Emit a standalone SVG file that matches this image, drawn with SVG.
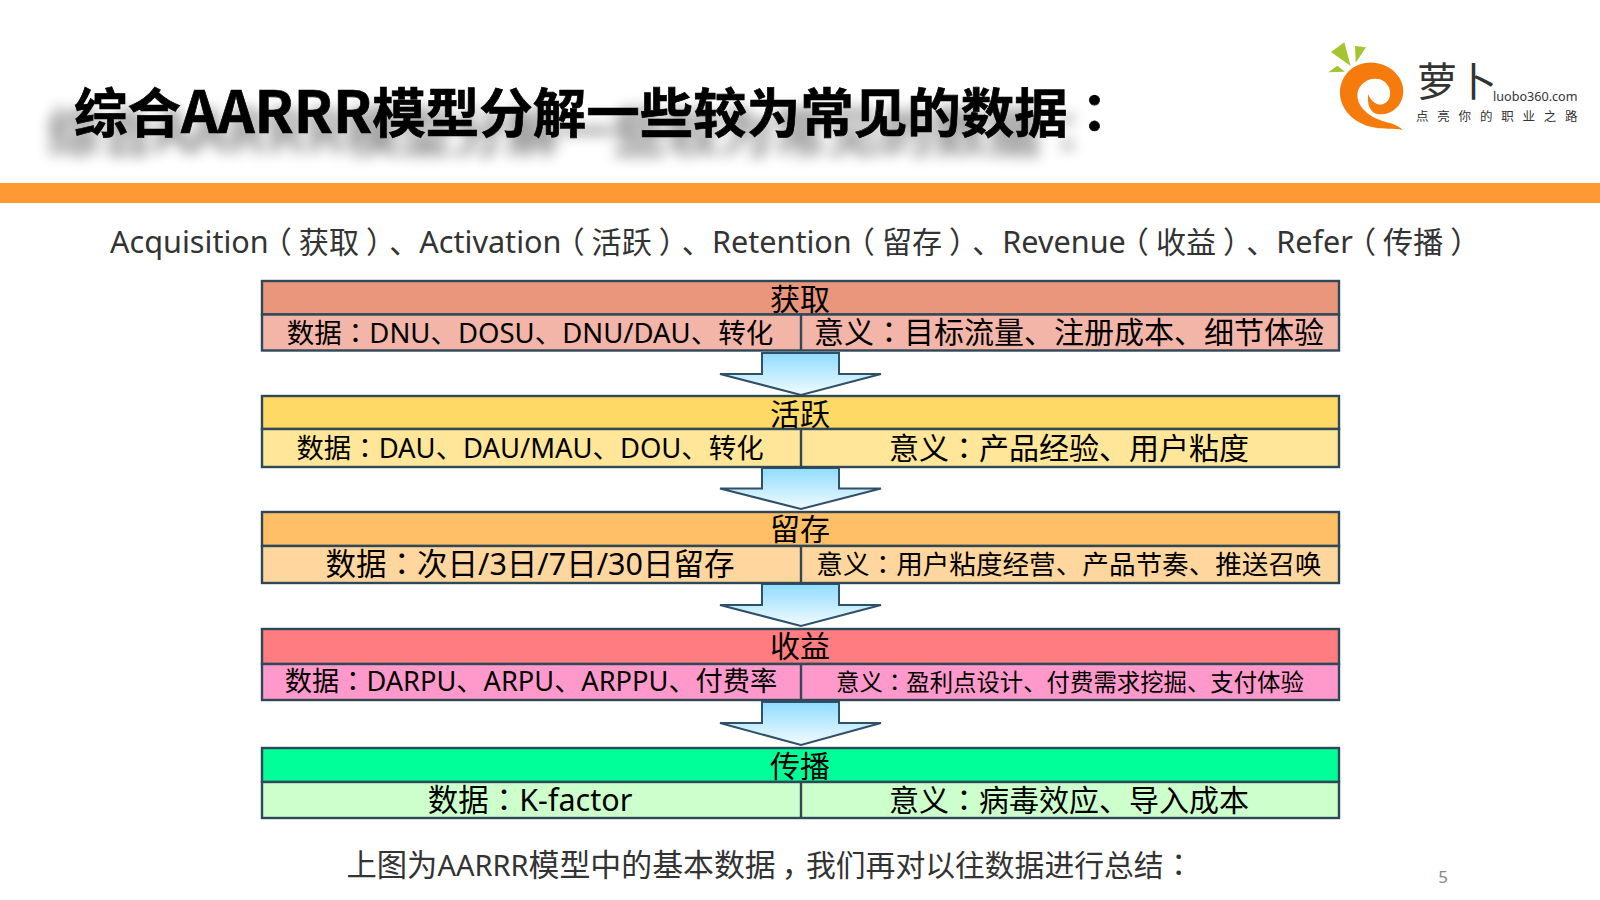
<svg xmlns="http://www.w3.org/2000/svg" width="1600" height="900" viewBox="0 0 1600 900">
<style>
text{font-family:"Noto Sans","Noto Sans CJK SC",sans-serif;fill:#000;text-spacing-trim:space-all}
.c{text-anchor:middle}
.j{font-family:"Noto Sans CJK JP",sans-serif}
.t{font-size:30px}
.s{font-size:30.1px}
.l{font-size:30.6px}
.n{font-size:29px}
.b{stroke:#2f4858;stroke-width:2.4}
.title{font-family:"Noto Sans CJK SC",sans-serif;font-weight:700;font-size:53.5px;stroke:#000;stroke-width:.7}
.big{font-size:57.5px}
.arrow path{fill:url(#ag);stroke:#2f5068;stroke-width:2}
.leaf{fill:#a4c52f}
</style>
<defs>
<linearGradient id="ag" x1="0" y1="0" x2="0" y2="1"><stop offset="0" stop-color="#8fdcff"/><stop offset="1" stop-color="#f2fbff"/></linearGradient>
<filter id="shadow" x="-5%" y="-60%" width="110%" height="240%">
<feGaussianBlur in="SourceAlpha" stdDeviation="7"/>
<feOffset dx="-27" dy="19"/>
<feComponentTransfer result="s"><feFuncA type="linear" slope=".42"/></feComponentTransfer>
<feMerge><feMergeNode in="s"/><feMergeNode in="SourceGraphic"/></feMerge>
</filter>
</defs>
<rect width="1600" height="900" fill="#fff"/>
<g id="title">
<text class="title" x="74" y="133" filter="url(#shadow)">综合<tspan class="big">AARRR</tspan>模型分解一些较为常见的数据<tspan class="j">：</tspan></text>
</g>
<rect id="band" x="0" y="183" width="1600" height="20" fill="#ff9933"/>
<g id="logo">
<path class="leaf" d="M1331 52L1344.3 42.3L1350.7 66Z"/>
<path class="leaf" d="M1355 46L1366 47.3L1355.7 62.7Z"/>
<path class="leaf" d="M1328.3 72.3L1337.3 65.7L1345 71.7Z"/>
<path transform="translate(1300 20) scale(.33333)" fill="#f47b0c" d="M205 128C265 125 312 170 310 215C308 262 268 288 232 282C210 278 200 250 205 222C212 245 235 262 255 250C280 236 275 190 240 178C205 168 172 195 172 225C172 265 215 295 255 305C275 310 295 315 308 330C280 322 250 330 220 322C160 310 118 265 120 215C122 165 160 130 205 128Z"/>
<text x="1417" y="96" style="font-size:40px;fill:#333">萝卜</text>
<text x="1493" y="101" style="font-size:12.6px;fill:#333">luobo360.com</text>
<text x="1416" y="121" style="font-size:12.5px;fill:#333;letter-spacing:8.8px">点亮你的职业之路</text>
</g>
<text id="subtitle" x="110" y="253" class="s" style="fill:#333"><tspan class="l" style="fill:#333">Acquisition</tspan><tspan class="j" dx="-7" style="fill:#333">（</tspan><tspan dx="7" style="fill:#333">获取</tspan><tspan class="j" dx="7" style="fill:#333">）</tspan><tspan dx="-7" style="fill:#333">、</tspan><tspan class="l" style="fill:#333">Activation</tspan><tspan class="j" dx="-7" style="fill:#333">（</tspan><tspan dx="7" style="fill:#333">活跃</tspan><tspan class="j" dx="7" style="fill:#333">）</tspan><tspan dx="-7" style="fill:#333">、</tspan><tspan class="l" style="fill:#333">Retention</tspan><tspan class="j" dx="-7" style="fill:#333">（</tspan><tspan dx="7" style="fill:#333">留存</tspan><tspan class="j" dx="7" style="fill:#333">）</tspan><tspan dx="-7" style="fill:#333">、</tspan><tspan class="l" style="fill:#333">Revenue</tspan><tspan class="j" dx="-7" style="fill:#333">（</tspan><tspan dx="7" style="fill:#333">收益</tspan><tspan class="j" dx="7" style="fill:#333">）</tspan><tspan dx="-7" style="fill:#333">、</tspan><tspan class="l" style="fill:#333">Refer</tspan><tspan class="j" dx="-7" style="fill:#333">（</tspan><tspan dx="7" style="fill:#333">传播</tspan><tspan class="j" dx="7" style="fill:#333">）</tspan></text>
<g id="connectors" class="arrow">
<path d="M762 353H839V374H881L801 395L720 374H762Z"/>
<path d="M762 468H839V488.500H881L801 509L720 488.500H762Z"/>
<path d="M762 584H839V605H881L801 626L720 605H762Z"/>
<path d="M762 702H839V723H881L801 745L720 723H762Z"/>
</g>
<g id="stage1">
<rect x="262" y="281" width="1077" height="33.500" fill="#ea967d" class="b"/>
<rect x="262" y="314.500" width="1077" height="36" fill="#f2b5a7" class="b"/>
<line x1="801" y1="314.500" x2="801" y2="350.500" class="b"/>
<text x="800" y="310" class="c t">获取</text>
<text x="530" y="343" class="c" style="font-size:27.500px">数据<tspan class="j">：</tspan>DNU、DOSU、DNU/DAU、转化</text>
<text x="1069" y="343" class="c t">意义<tspan class="j">：</tspan>目标流量、注册成本、细节体验</text>
</g>
<g id="stage2">
<rect x="262" y="396" width="1077" height="33" fill="#ffd966" class="b"/>
<rect x="262" y="429" width="1077" height="38" fill="#ffe699" class="b"/>
<line x1="801" y1="429" x2="801" y2="467" class="b"/>
<text x="800" y="425" class="c t">活跃</text>
<text x="530" y="458" class="c" style="font-size:27.400px">数据<tspan class="j">：</tspan>DAU、DAU/MAU、DOU、转化</text>
<text x="1069" y="459" class="c t">意义<tspan class="j">：</tspan>产品经验、用户粘度</text>
</g>
<g id="stage3">
<rect x="262" y="512" width="1077" height="34" fill="#ffbf66" class="b"/>
<rect x="262" y="546" width="1077" height="37" fill="#ffd69e" class="b"/>
<line x1="801" y1="546" x2="801" y2="583" class="b"/>
<text x="800" y="540" class="c t">留存</text>
<text x="530" y="575" class="c" style="font-size:30.500px">数据<tspan class="j">：</tspan>次日/3日/7日/30日留存</text>
<text x="1069" y="574" class="c" style="font-size:26.600px">意义<tspan class="j">：</tspan>用户粘度经营、产品节奏、推送召唤</text>
</g>
<g id="stage4">
<rect x="262" y="629" width="1077" height="35" fill="#ff7c80" class="b"/>
<rect x="262" y="664" width="1077" height="36" fill="#ff99cc" class="b"/>
<line x1="801" y1="664" x2="801" y2="700" class="b"/>
<text x="800" y="657" class="c t">收益</text>
<text x="531" y="691" class="c" style="font-size:27.200px">数据<tspan class="j">：</tspan>DARPU、ARPU、ARPPU、付费率</text>
<text x="1070" y="691" class="c" style="font-size:23.400px">意义<tspan class="j">：</tspan>盈利点设计、付费需求挖掘、支付体验</text>
</g>
<g id="stage5">
<rect x="262" y="748" width="1077" height="34" fill="#00ff99" class="b"/>
<rect x="262" y="782" width="1077" height="36" fill="#ccffcc" class="b"/>
<line x1="801" y1="782" x2="801" y2="818" class="b"/>
<text x="800" y="777" class="c t">传播</text>
<text x="530" y="811" class="c" style="font-size:30.500px">数据<tspan class="j">：</tspan>K-factor</text>
<text x="1069" y="811" class="c t">意义<tspan class="j">：</tspan>病毒效应、导入成本</text>
</g>
<text id="note" x="346.500" y="876" style="font-size:30.300px;fill:#333">上图为<tspan class="n" style="fill:#333">AARRR</tspan><tspan style="font-size:30.900px;fill:#333">模型中的基本数据</tspan><tspan dx="6" style="fill:#333">，</tspan><tspan dx="-6" style="font-size:29.800px;fill:#333">我们再对以往数据进行总结</tspan><tspan class="j" style="fill:#333">：</tspan></text>
<text id="page" x="1443" y="883" class="c" style="font-size:17px;fill:#8a8a8a">5</text>
</svg>
